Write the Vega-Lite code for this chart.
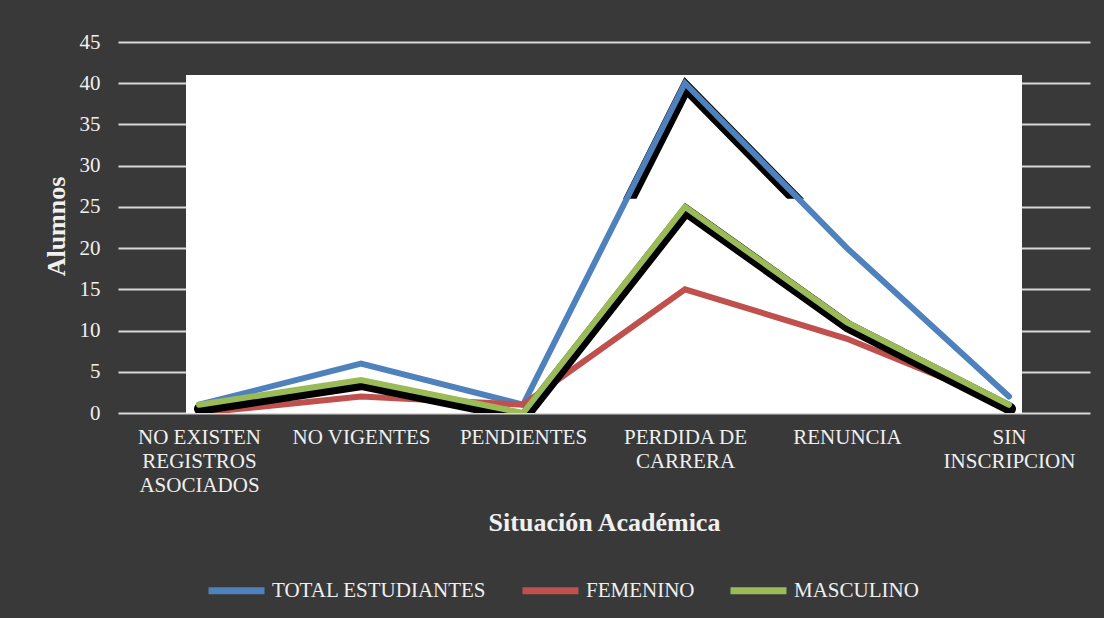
{
  "$schema": "https://vega.github.io/schema/vega-lite/v6.json",
  "autosize": "none",
  "width": 972,
  "height": 371,
  "padding": {"left": 118, "top": 42, "right": 14, "bottom": 205},
  "background": "#393939",
  "config": {
    "view": {"stroke": null},
    "font": "Liberation Serif",
    "axis": {"labelFont": "Liberation Serif", "titleFont": "Liberation Serif", "labelColor": "#f0f0f0", "titleColor": "#f0f0f0"},
    "legend": {"labelFont": "Liberation Serif", "labelColor": "#f0f0f0"}
  },
  "datasets": {
    "alumnos": [
      {"situacion": "NO EXISTEN REGISTROS ASOCIADOS", "serie": "TOTAL ESTUDIANTES", "alumnos": 1},
      {"situacion": "NO VIGENTES", "serie": "TOTAL ESTUDIANTES", "alumnos": 6},
      {"situacion": "PENDIENTES", "serie": "TOTAL ESTUDIANTES", "alumnos": 1},
      {"situacion": "PERDIDA DE CARRERA", "serie": "TOTAL ESTUDIANTES", "alumnos": 40},
      {"situacion": "RENUNCIA", "serie": "TOTAL ESTUDIANTES", "alumnos": 20},
      {"situacion": "SIN INSCRIPCION", "serie": "TOTAL ESTUDIANTES", "alumnos": 2},
      {"situacion": "NO EXISTEN REGISTROS ASOCIADOS", "serie": "FEMENINO", "alumnos": 0},
      {"situacion": "NO VIGENTES", "serie": "FEMENINO", "alumnos": 2},
      {"situacion": "PENDIENTES", "serie": "FEMENINO", "alumnos": 1},
      {"situacion": "PERDIDA DE CARRERA", "serie": "FEMENINO", "alumnos": 15},
      {"situacion": "RENUNCIA", "serie": "FEMENINO", "alumnos": 9},
      {"situacion": "SIN INSCRIPCION", "serie": "FEMENINO", "alumnos": 1},
      {"situacion": "NO EXISTEN REGISTROS ASOCIADOS", "serie": "MASCULINO", "alumnos": 1},
      {"situacion": "NO VIGENTES", "serie": "MASCULINO", "alumnos": 4},
      {"situacion": "PENDIENTES", "serie": "MASCULINO", "alumnos": 0},
      {"situacion": "PERDIDA DE CARRERA", "serie": "MASCULINO", "alumnos": 25},
      {"situacion": "RENUNCIA", "serie": "MASCULINO", "alumnos": 11},
      {"situacion": "SIN INSCRIPCION", "serie": "MASCULINO", "alumnos": 1}
    ]
  },
  "data": {"name": "alumnos"},
  "encoding": {
    "x": {
      "field": "situacion",
      "type": "nominal",
      "scale": {
        "type": "point",
        "padding": 0.5,
        "domain": ["NO EXISTEN REGISTROS ASOCIADOS", "NO VIGENTES", "PENDIENTES", "PERDIDA DE CARRERA", "RENUNCIA", "SIN INSCRIPCION"]
      },
      "axis": {
        "title": "Situación Académica",
        "titleFontSize": 26,
        "titleFontWeight": "bold",
        "titleBaseline": "middle",
        "titleY": 109,
        "labelFontSize": 21,
        "labelAngle": 0,
        "labelPadding": 13,
        "labelLineHeight": 24,
        "labelExpr": "datum.value == 'NO EXISTEN REGISTROS ASOCIADOS' ? ['NO EXISTEN', 'REGISTROS', 'ASOCIADOS'] : datum.value == 'PERDIDA DE CARRERA' ? ['PERDIDA DE', 'CARRERA'] : datum.value == 'SIN INSCRIPCION' ? ['SIN', 'INSCRIPCION'] : datum.label",
        "domain": false,
        "ticks": false,
        "grid": false
      }
    },
    "y": {
      "field": "alumnos",
      "type": "quantitative",
      "scale": {"domain": [0, 45]},
      "axis": {
        "title": "Alumnos",
        "titleFontSize": 26,
        "titleFontWeight": "bold",
        "titleBaseline": "middle",
        "titleAlign": "center",
        "titleX": -62,
        "titleY": 184,
        "values": [0, 5, 10, 15, 20, 25, 30, 35, 40, 45],
        "labelFontSize": 21,
        "labelPadding": 18,
        "domain": false,
        "ticks": false,
        "grid": true,
        "gridColor": "#d8d8d8",
        "gridWidth": 2
      }
    }
  },
  "layer": [
    {
      "data": {"values": [{"situacion": "PENDIENTES", "alumnos": 41}]},
      "mark": {"type": "rect", "fill": "#ffffff", "width": 836, "xOffset": 81},
      "encoding": {
        "y2": {"datum": 0}
      }
    },
    {
      "transform": [{"filter": "datum.serie == 'TOTAL ESTUDIANTES'"}],
      "mark": {"type": "line", "color": "#000000", "strokeWidth": 12, "yOffset": 4, "xOffset": 1, "strokeCap": "round", "clip": true}
    },
    {
      "data": {"values": [{"situacion": "PENDIENTES", "alumnos": 26}]},
      "mark": {"type": "rect", "fill": "#ffffff", "width": 836, "xOffset": 81},
      "encoding": {
        "y2": {"datum": 0}
      }
    },
    {
      "transform": [{"filter": "datum.serie == 'TOTAL ESTUDIANTES'"}],
      "mark": {"type": "line", "strokeWidth": 6, "strokeCap": "round", "clip": true},
      "encoding": {
        "color": {
          "field": "serie",
          "type": "nominal",
          "scale": {"domain": ["TOTAL ESTUDIANTES", "FEMENINO", "MASCULINO"], "range": ["#4f81bd", "#c0504d", "#9bbb59"]},
          "legend": {
            "title": null,
            "orient": "none",
            "direction": "horizontal",
            "legendX": 87,
            "legendY": 517,
            "padding": 0,
            "symbolType": "stroke",
            "symbolStrokeWidth": 7,
            "symbolSize": 3136,
            "labelFont": "Liberation Serif",
            "labelFontSize": 21,
            "labelLimit": 0,
            "labelOffset": 4,
            "columnPadding": 21
          }
        }
      }
    },
    {
      "transform": [{"filter": "datum.serie == 'FEMENINO'"}],
      "mark": {"type": "line", "strokeWidth": 6, "strokeCap": "round", "clip": true},
      "encoding": {"color": {"field": "serie", "type": "nominal"}}
    },
    {
      "transform": [{"filter": "datum.serie == 'MASCULINO'"}],
      "mark": {"type": "line", "color": "#000000", "strokeWidth": 12, "yOffset": 4, "xOffset": 1, "strokeCap": "round", "clip": true}
    },
    {
      "transform": [{"filter": "datum.serie == 'MASCULINO'"}],
      "mark": {"type": "line", "strokeWidth": 6, "strokeCap": "round", "clip": true},
      "encoding": {"color": {"field": "serie", "type": "nominal"}}
    }
  ]
}
